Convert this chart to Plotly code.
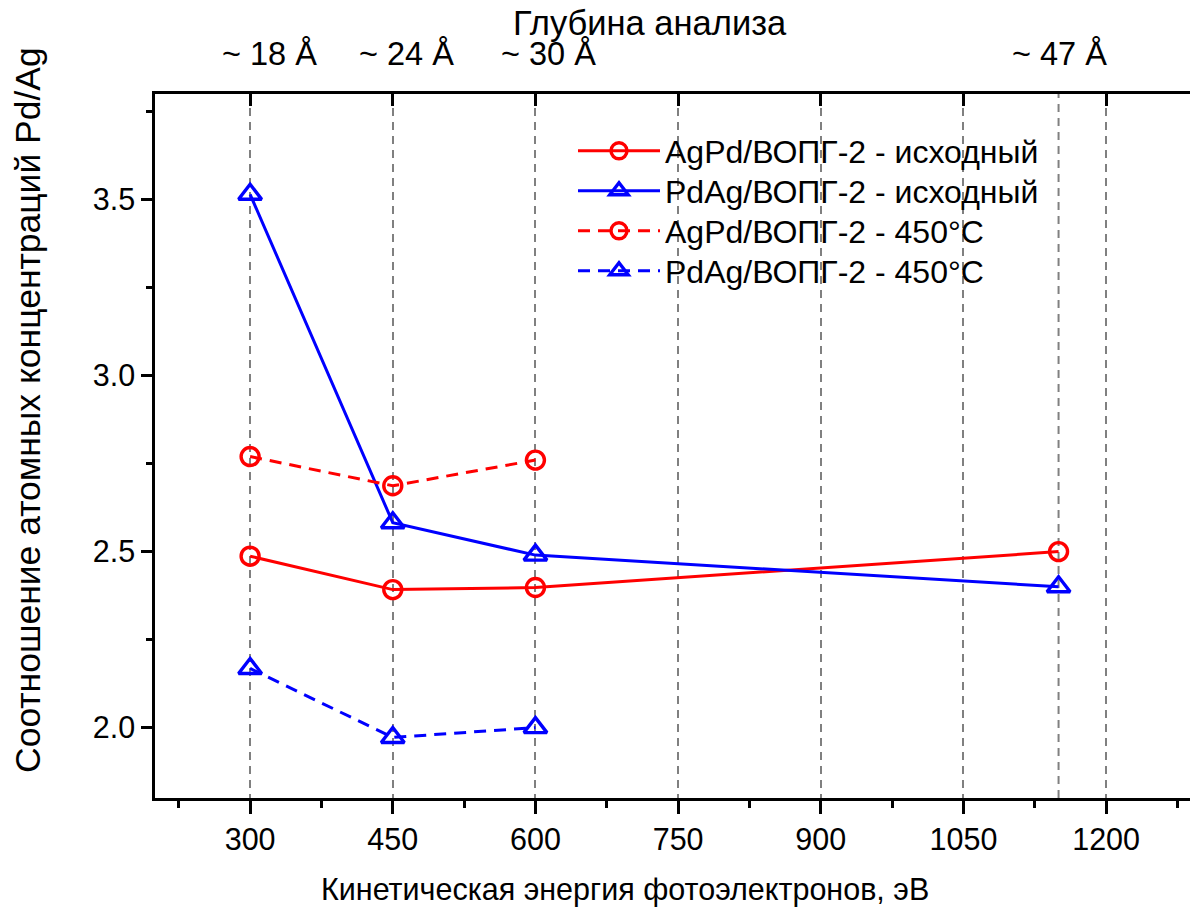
import plotly.graph_objects as go

# Photoelectron kinetic energy, eV
energy = [300, 450, 600, 1150]
energy_annealed = [300, 450, 600]

# Pd/Ag atomic concentration ratio
agpd_initial = [2.487, 2.392, 2.398, 2.50]
pdag_initial = [3.515, 2.582, 2.49, 2.40]
agpd_450 = [2.77, 2.687, 2.76]
pdag_450 = [2.168, 1.972, 2.0]

# Analysis depth labels for the top axis
depth_energy = [300, 450, 600, 1150]
depth_labels = ["~ 18 Å", "~ 24 Å", "~ 30 Å", "~ 47 Å"]
depth_label_shift = [20, 14, 14, 1]  # horizontal nudge of each label, eV

x_ticks = [300, 450, 600, 750, 900, 1050, 1200]
y_ticks = [2.0, 2.5, 3.0, 3.5]

FONT = "Liberation Sans, Arial, sans-serif"
W, H = 1190, 912
ML, MR, MT, MB = 155, 0, 94, 114

RED = "#ff0000"
BLUE = "#0000ff"


def px_x(px):
    return (px - ML) / (W - ML - MR)


def px_y(py):
    return (H - MB - py) / (H - MT - MB)


fig = go.Figure()

series = [
    (energy, agpd_initial, "AgPd/ВОПГ-2 - исходный", RED, "solid", "circle-open"),
    (energy, pdag_initial, "PdAg/ВОПГ-2 - исходный", BLUE, "solid", "triangle-up-open"),
    (energy_annealed, agpd_450, "AgPd/ВОПГ-2 - 450°C", RED, "12px,8px", "circle-open"),
    (energy_annealed, pdag_450, "PdAg/ВОПГ-2 - 450°C", BLUE, "12px,8px", "triangle-up-open"),
]
legend_ids = ["legend", "legend2", "legend3", "legend4"]
legend_rows_px = [151, 191, 231, 271]  # vertical centre of each legend entry

for (xs, ys, name, color, dash, symbol), lid in zip(series, legend_ids):
    fig.add_trace(go.Scatter(
        x=xs, y=ys, name=name, mode="lines+markers", legend=lid,
        line=dict(color=color, width=3, dash=dash),
        marker=dict(symbol=symbol, size=18 if "circle" in symbol else 20,
                    color=color, line=dict(color=color, width=3.4)),
    ))

# companion trace so the top axis is drawn
fig.add_trace(go.Scatter(x=[], y=[], xaxis="x2", showlegend=False, hoverinfo="skip"))

# dashed guide at the deepest analysis energy
fig.add_shape(type="line", xref="x", yref="paper", x0=depth_energy[-1], x1=depth_energy[-1],
              y0=0, y1=1, layer="below",
              line=dict(color="#808080", width=2, dash="8px,6px"))

for xe, label, shift in zip(depth_energy, depth_labels, depth_label_shift):
    fig.add_annotation(x=xe + shift, xref="x", y=px_y(54), yref="paper",
                       text=label, showarrow=False, xanchor="center", yanchor="middle",
                       font=dict(family=FONT, size=32.5, color="black"))

fig.add_annotation(x=px_x(650), xref="paper", y=px_y(23), yref="paper",
                   text="Глубина анализа", showarrow=False, xanchor="center", yanchor="middle",
                   font=dict(family=FONT, size=34.5, color="black"))
fig.add_annotation(x=px_x(625), xref="paper", y=px_y(889), yref="paper",
                   text="Кинетическая энергия фотоэлектронов, эВ", showarrow=False,
                   xanchor="center", yanchor="middle",
                   font=dict(family=FONT, size=30.5, color="black"))
fig.add_annotation(x=px_x(28), xref="paper", y=px_y(410), yref="paper",
                   text="Соотношение атомных концентраций Pd/Ag", showarrow=False,
                   textangle=-90, xanchor="center", yanchor="middle",
                   font=dict(family=FONT, size=35.5, color="black"))

x_range = [200, 200 + (W - ML - MR) * 900 / 856]

legend_style = dict(xanchor="left", yanchor="middle", bgcolor="rgba(0,0,0,0)", borderwidth=0,
                    font=dict(family=FONT, size=32, color="black"), itemwidth=82)
legends = {lid: dict(x=px_x(573), y=px_y(row), **legend_style)
           for lid, row in zip(legend_ids, legend_rows_px)}

fig.update_layout(
    width=W, height=H,
    margin=dict(l=ML, r=MR, t=MT, b=MB, pad=0),
    paper_bgcolor="white", plot_bgcolor="white",
    font=dict(family=FONT, size=30, color="black"),
    showlegend=True,
    **legends,
    xaxis=dict(
        range=x_range, tickvals=x_ticks, ticks="outside", ticklen=13, tickwidth=2.5,
        tickcolor="black", showline=True, linecolor="black", linewidth=2.5,
        mirror=False, zeroline=False,
        showgrid=True, gridcolor="#808080", gridwidth=2, griddash="8px,6px",
        tickfont=dict(family=FONT, size=30.5, color="black"),
        minor=dict(dtick=75, tick0=0, ticks="outside", ticklen=7, tickwidth=2.5,
                   tickcolor="black", showgrid=False),
    ),
    xaxis2=dict(
        range=x_range, overlaying="x", side="top", anchor="y",
        tickvals=x_ticks, ticks="inside", ticklen=12, tickwidth=2.5, tickcolor="black",
        showticklabels=False, showline=True, linecolor="black", linewidth=2.5,
        showgrid=False, zeroline=False,
    ),
    yaxis=dict(
        range=[1.8, 3.8], tickvals=y_ticks, tickformat=".1f", ticks="outside",
        ticklen=11, tickwidth=2.5, tickcolor="black",
        showline=True, linecolor="black", linewidth=2.5, mirror=False,
        showgrid=False, zeroline=False,
        tickfont=dict(family=FONT, size=30.5, color="black"),
        minor=dict(dtick=0.25, tick0=0, ticks="outside", ticklen=6, tickwidth=2.5,
                   tickcolor="black", showgrid=False),
    ),
)

fig.write_html("out.html")
